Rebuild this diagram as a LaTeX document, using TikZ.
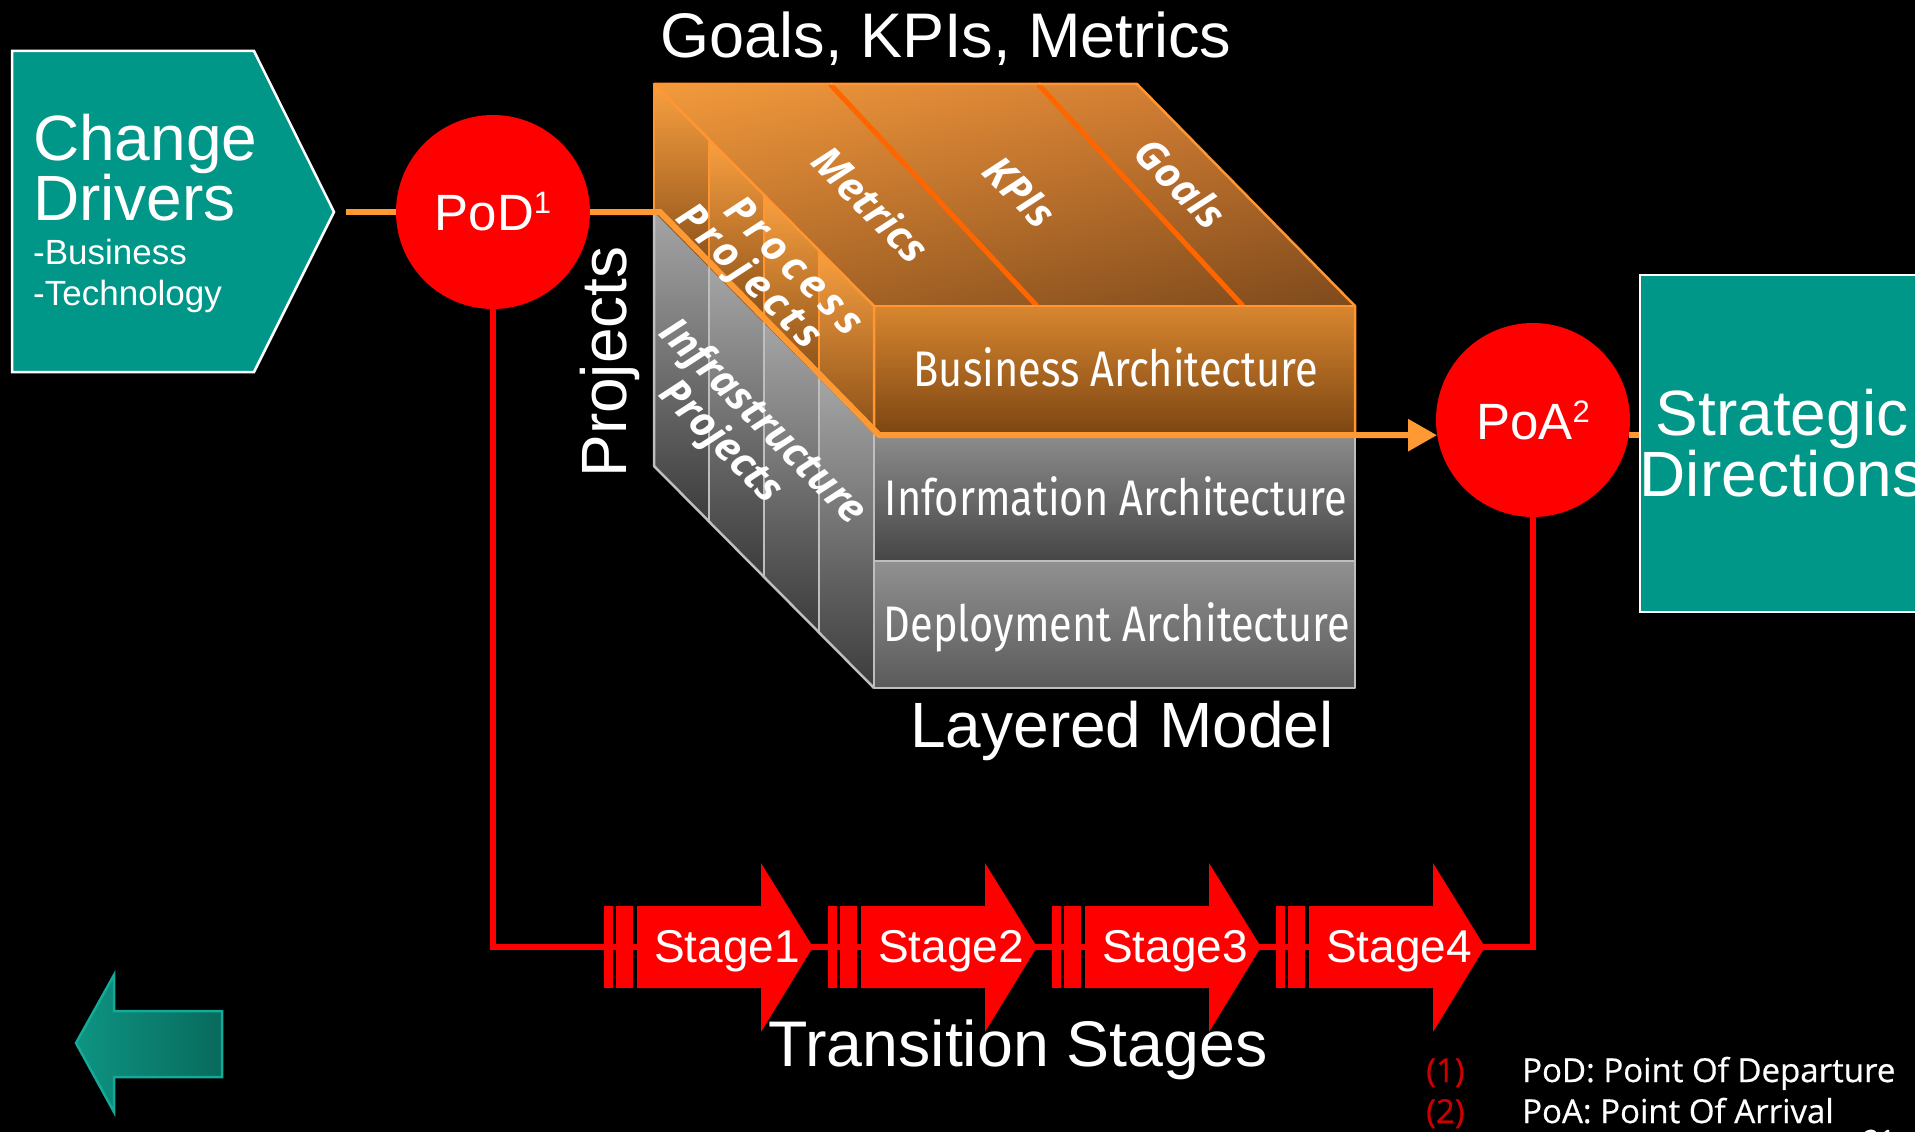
\documentclass[tikz,border=0pt]{standalone}
\usepackage{fontspec}
\setmainfont{Liberation Sans}
\newfontfamily\condfont[FakeStretch=0.83]{Fira Sans}
\newfontfamily\labfont{Open Sans}
\newfontfamily\notefont[FakeBold=0.6]{Open Sans}
\usetikzlibrary{arrows.meta,shadings}
\definecolor{tealA}{RGB}{0,150,136}
\definecolor{lineorange}{RGB}{255,153,51}
\definecolor{stripor}{RGB}{255,102,0}
\definecolor{cubeedge}{RGB}{255,150,50}
\definecolor{grayedge}{RGB}{190,190,190}
\definecolor{topA}{RGB}{243,154,60}
\definecolor{topB}{RGB}{200,117,48}
\definecolor{topC}{RGB}{176,106,40}
\definecolor{topD}{RGB}{126,74,28}
\definecolor{busT}{RGB}{216,134,47}
\definecolor{busB}{RGB}{124,70,18}
\definecolor{sideOT}{RGB}{249,160,64}
\definecolor{sideOB}{RGB}{138,80,24}
\definecolor{sideGT}{RGB}{165,165,165}
\definecolor{sideGB}{RGB}{60,60,60}
\definecolor{infT}{RGB}{140,140,140}
\definecolor{infB}{RGB}{70,70,70}
\definecolor{depT}{RGB}{145,145,145}
\definecolor{depB}{RGB}{90,90,90}
\definecolor{fnred}{RGB}{204,0,0}
\definecolor{arrL}{RGB}{14,148,130}
\definecolor{arrR}{RGB}{8,106,92}
\definecolor{arrE}{RGB}{20,170,152}
\newcommand\setfs[2]{\fontsize{#1}{#2}\selectfont}
\newcommand\supnum[1]{\raisebox{17pt}{\setfs{31}{31}#1}}
\begin{document}
\begin{tikzpicture}[x=1pt,y=-1pt,
  lbl/.style={text=white,inner sep=0pt},
  orangeline/.style={draw=lineorange,line width=6pt},
  redline/.style={draw=red,line width=6pt},
  pointcirc/.style={circle,fill=red,minimum size=194pt,inner sep=0pt,text=white,font=\setfs{51}{51}},
  stripline/.style={draw=stripor,line width=5pt},
  oedge/.style={draw=cubeedge,line width=2.5pt,line join=round},
  gedge/.style={draw=grayedge,line width=2.5pt,line join=round},
  rotlab/.style={lbl,rotate=-45,font=\labfont\bfseries\itshape\setfs{41}{41}},
  frontlab/.style={lbl,anchor=base,font=\condfont\setfs{50}{50}},
  bigtxt/.style={lbl,font=\setfs{64}{64}}
]
\clip (0,0) rectangle (1915,1132);
\fill[black] (0,0) rectangle (1915,1132);

% Change drivers
\filldraw[fill=tealA,draw=white,line width=2.5pt] (12,51) -- (254,51) -- (334,212) -- (254,372) -- (12,372) -- cycle;
\coordinate (cdtip) at (334,212);
\node[bigtxt,anchor=base west] (cd1) at (33,160) {Change};
\node[bigtxt,anchor=base west] (cd2) at (33,220) {Drivers};
\node[lbl,anchor=base west,font=\setfs{35}{35}] (cd3) at (33,264) {-Business};
\node[lbl,anchor=base west,font=\setfs{35}{35}] (cd4) at (33,305) {-Technology};

% points
\node[pointcirc] (pod) at (493,212) {PoD\supnum{1}};
\node[pointcirc] (poa) at (1533,420) {PoA\supnum{2}};

% strategic directions
\node[draw=white,line width=2.5pt,fill=tealA,minimum width=276pt,minimum height=337pt,
      align=center,text=white,font=\setfs{64}{61},inner sep=0pt] (sd) at (1782,443.5) {Strategic\\Directions};

% red path
\coordinate (rowy) at (0,947);
\draw[redline] (pod.south) |- (poa.south |- rowy) -- (poa.south);

% stage arrows
\foreach \i/\lab in {0/Stage1,1/Stage2,2/Stage3,3/Stage4}{
  \pgfmathsetmacro\xo{604+224*\i}
  \fill[red] (\xo,906) rectangle ++(9,82);
  \fill[red] (\xo+12,906) rectangle ++(17,82);
  \fill[red] (\xo+33,906) -- (\xo+157,906) -- (\xo+157,863) -- (\xo+209,947)
        -- (\xo+157,1032) -- (\xo+157,988) -- (\xo+33,988) -- cycle;
  \node[lbl,anchor=base,font=\setfs{46}{46}] (st\i) at (\xo+123,962) {\lab};
}

% cube side columns
\foreach \i in {0,1,2,3}{
  \pgfmathsetmacro\xa{654+55*\i}
  \pgfmathsetmacro\xb{\xa+55}
  \pgfmathsetmacro\ya{84+55.5*\i}
  \pgfmathsetmacro\yb{\ya+55.5}
  \shade[top color=sideOT,bottom color=sideOB] (\xa,\ya) -- (\xb,\yb) -- (\xb,\yb+128) -- (\xa,\ya+128) -- cycle;
  \shade[top color=sideGT,bottom color=sideGB] (\xa,\ya+128) -- (\xb,\yb+128) -- (\xb,\yb+382) -- (\xa,\ya+382) -- cycle;
  \draw[draw=grayedge,line width=1.5pt] (\xa,\ya+128) -- (\xa,\ya+382);
  \draw[draw=cubeedge,line width=1.5pt] (\xa,\ya) -- (\xa,\ya+128);
}
% top face
\shade[upper left=topA,upper right=topB,lower left=topC,lower right=topD]
  (654,84) -- (1137,84) -- (1355,306) -- (874,306) -- cycle;
% front faces
\shade[top color=busT,bottom color=busB] (874,306) rectangle (1355,434);
\shade[top color=infT,bottom color=infB] (874,434) rectangle (1355,561);
\shade[top color=depT,bottom color=depB] (874,561) rectangle (1355,688);
% strip lines
\draw[stripline] (830,84) -- (1037,306);
\draw[stripline] (1038,84) -- (1243,306);
% edges
\draw[gedge] (874,434) rectangle (1355,688);
\draw[gedge] (874,561) -- (1355,561);
\draw[gedge] (654,212) -- (654,466) -- (874,688);
\draw[oedge] (654,84) -- (1137,84) -- (1355,306) -- (1355,434) -- (874,434) -- (874,306) -- cycle;
\draw[oedge] (874,306) -- (1355,306);
\draw[oedge] (654,84) -- (654,212);

% orange connectors
\coordinate (bend1) at (660,212);
\coordinate (bend2) at (879,435);
\draw[orangeline,shorten <=12pt] (cdtip) -- (pod.west);
\draw[orangeline,-{Triangle[length=29pt,width=31pt]}] (pod.east) -- (bend1) -- (bend2) -- (poa.189);
\draw[orangeline] (poa.351) -- (sd.west |- poa.351);

% cube labels
\node[rotlab] (tmet) at (871,204) {Metrics};
\node[rotlab] (tkpi) at (1020,192) {KPIs};
\node[rotlab] (tgoal) at (1181,183) {Goals};
\node[rotlab,font=\labfont\bfseries\itshape\setfs{41}{41}\addfontfeature{LetterSpace=13}] (tproc) at (795,265) {Process};
\node[rotlab,font=\labfont\bfseries\itshape\setfs{41}{41}\addfontfeature{LetterSpace=11}] (tproj) at (748,278) {Projects};
\node[rotlab] (tinf) at (762,423) {Infrastructure};
\node[rotlab] (tinp) at (720,443) {Projects};
\node[frontlab] (ba) at (1116,386) {Business Architecture};
\node[frontlab] (ia) at (1116,515) {Information Architecture};
\node[frontlab] (da) at (1117,641) {Deployment Architecture};
\node[bigtxt,rotate=90] (pj) at (610,362) {Projects};

% titles
\node[lbl,anchor=base,font=\setfs{63}{63}] (t1) at (946,58) {Goals, KPIs, Metrics};
\node[bigtxt,anchor=base] (t2) at (1122,747) {Layered Model};
\node[lbl,anchor=base,font=\setfs{64.5}{64.5}] (t3) at (1018,1066) {Transition Stages};

% back arrow
\shadedraw[left color=arrL,right color=arrR,draw=arrE,line width=2.5pt]
  (76,1043) -- (114,975) -- (114,1011) -- (222,1011) -- (222,1077) -- (114,1077) -- (114,1112) -- cycle;

% footnotes
\node[anchor=base west,inner sep=0pt,text=fnred,font=\notefont\setfs{33}{33}] (n1) at (1426,1082) {(1)};
\node[anchor=base west,inner sep=0pt,text=fnred,font=\notefont\setfs{33}{33}] (n2) at (1426,1123) {(2)};
\node[anchor=base west,lbl,font=\notefont\setfs{33}{33}] (f1) at (1522,1082) {PoD: Point Of Departure};
\node[anchor=base west,lbl,font=\notefont\setfs{33}{33}] (f2) at (1522,1123) {PoA: Point Of Arrival};
\node[anchor=base west,lbl,font=\notefont\setfs{28}{28}] (pg) at (1863,1150) {21};
\end{tikzpicture}
\end{document}
